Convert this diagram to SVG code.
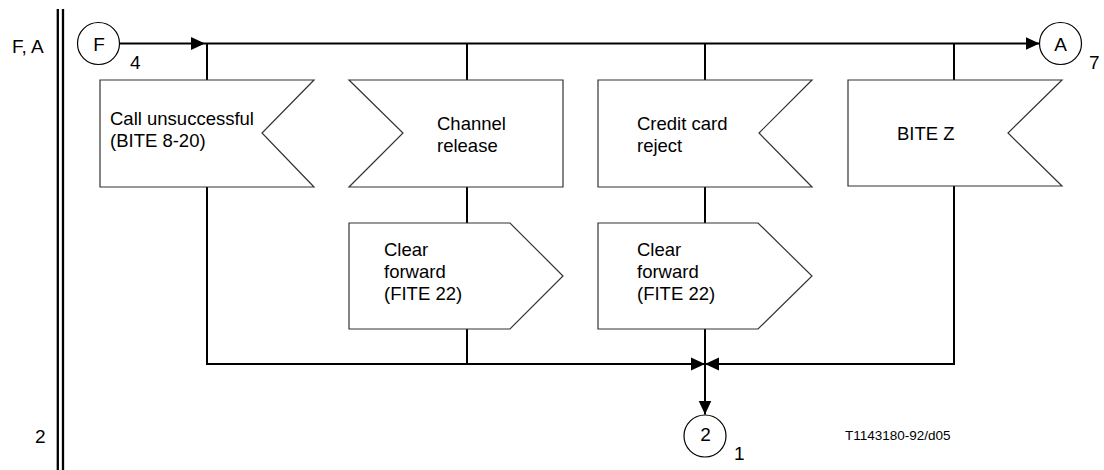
<svg xmlns="http://www.w3.org/2000/svg" width="1104" height="470" viewBox="0 0 1104 470">
<style>
.shape{fill:#fff;stroke:#333;stroke-width:1.2}
.conn{fill:none;stroke:#000;stroke-width:2}
.circ{fill:#fff;stroke:#000;stroke-width:1.2}
text{font-family:"Liberation Sans",Arial,sans-serif;fill:#000}
.t{font-size:18.5px}
.l{font-size:19px}
.s{font-size:13.5px}
</style>
<defs>
<marker id="ah" viewBox="0 0 14 14" refX="14" refY="7" markerWidth="14" markerHeight="14" markerUnits="userSpaceOnUse" orient="auto">
<path d="M0,0.5 L14,7 L0,13.5 Z" fill="#000"/>
</marker>
</defs>
<g id="frame">
<line x1="57.8" y1="9" x2="57.8" y2="470" stroke="#000" stroke-width="2.3"/>
<line x1="63" y1="9" x2="63" y2="470" stroke="#000" stroke-width="2.3"/>
<text class="l" x="12" y="53">F, A</text>
<text class="l" x="35" y="443">2</text>
<text class="s" x="845" y="440">T1143180-92/d05</text>
</g>
<g id="connectors">
<line class="conn" x1="119.5" y1="43.5" x2="205" y2="43.5" marker-end="url(#ah)"/>
<line class="conn" x1="205" y1="43.5" x2="1039.5" y2="43.5" marker-end="url(#ah)"/>
<line class="conn" x1="207" y1="43.5" x2="207" y2="80"/>
<line class="conn" x1="467" y1="43.5" x2="467" y2="80"/>
<line class="conn" x1="705" y1="43.5" x2="705" y2="80"/>
<line class="conn" x1="954" y1="43.5" x2="954" y2="80"/>
<line class="conn" x1="467" y1="187" x2="467" y2="223"/>
<line class="conn" x1="705" y1="187" x2="705" y2="223"/>
<line class="conn" x1="467" y1="329" x2="467" y2="364"/>
<line class="conn" x1="705" y1="329" x2="705" y2="364"/>
<polyline class="conn" points="207,187 207,364 705,364" marker-end="url(#ah)"/>
<polyline class="conn" points="954,186 954,364 705,364" marker-end="url(#ah)"/>
<line class="conn" x1="705" y1="364" x2="705" y2="414.5" marker-end="url(#ah)"/>
</g>
<g id="conF">
<circle class="circ" cx="98.5" cy="43.5" r="21"/>
<text class="l" x="99" y="50.5" text-anchor="middle">F</text>
<text class="l" x="130" y="69">4</text>
</g>
<g id="conA">
<circle class="circ" cx="1060.5" cy="43.5" r="21"/>
<text class="l" x="1060.5" y="50.5" text-anchor="middle">A</text>
<text class="l" x="1089" y="69">7</text>
</g>
<g id="con2">
<circle class="circ" cx="705" cy="436" r="21"/>
<text class="l" x="705.5" y="441" text-anchor="middle">2</text>
<text class="l" x="734" y="460">1</text>
</g>
<g id="callUnsuccessful">
<path class="shape" d="M100,80 L314,80 L262,133 L314,187 L100,187 Z"/>
<text class="t" x="110" y="125">Call unsuccessful</text>
<text class="t" x="110" y="147">(BITE 8-20)</text>
</g>
<g id="channelRelease">
<path class="shape" d="M349,80 L563,80 L563,187 L349,187 L403,133 Z"/>
<text class="t" x="437" y="130">Channel</text>
<text class="t" x="437" y="152">release</text>
</g>
<g id="creditCardReject">
<path class="shape" d="M598,80 L812,80 L759,133 L812,187 L598,187 Z"/>
<text class="t" x="637" y="130">Credit card</text>
<text class="t" x="637" y="152">reject</text>
</g>
<g id="biteZ">
<path class="shape" d="M848,80 L1062,80 L1008,133 L1062,186 L848,186 Z"/>
<text class="t" x="897" y="140">BITE Z</text>
</g>
<g id="clearForward1">
<path class="shape" d="M349,223 L510,223 L563,276 L510,329 L349,329 Z"/>
<text class="t" x="384" y="256">Clear</text>
<text class="t" x="384" y="278">forward</text>
<text class="t" x="384" y="300">(FITE 22)</text>
</g>
<g id="clearForward2">
<path class="shape" d="M598,223 L758,223 L812,276 L758,329 L598,329 Z"/>
<text class="t" x="637" y="256">Clear</text>
<text class="t" x="637" y="278">forward</text>
<text class="t" x="637" y="300">(FITE 22)</text>
</g>
</svg>
